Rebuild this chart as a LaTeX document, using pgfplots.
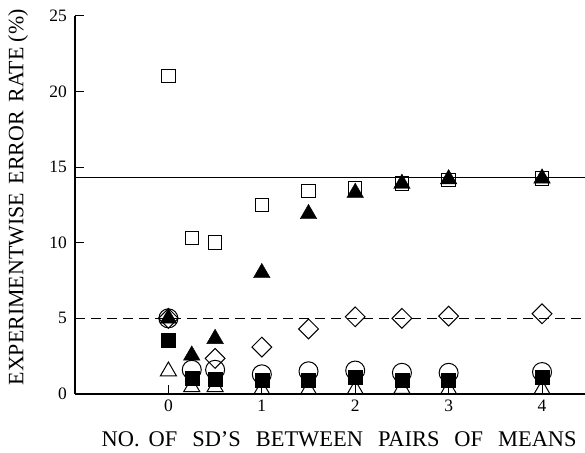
\documentclass[border=0pt]{standalone}
\usepackage{fontspec}
\setmainfont{Liberation Serif}
\usepackage{pgfplots}
\pgfplotsset{compat=1.18}

\begin{document}
\begin{tikzpicture}
\begin{axis}[name=ax,
 scale only axis, width=510bp, height=378.3bp,
 xmin=-1, xmax=4.46, ymin=0, ymax=25,
 axis x line*=bottom, axis y line*=left,
 axis line style={-, line width=1.1bp},
 xtick={0,1,2,3,4}, ytick={0,5,10,15,20,25},
 tick align=inside, major tick length=9bp,
 tick style={line width=1bp, black},
 /pgf/number format/assume math mode=true,
 ticklabel style={font=\fontsize{17.5}{18}\selectfont},
 xticklabel style={anchor=north, inner sep=0pt, yshift=-6bp},
 yticklabel style={anchor=east, inner sep=0pt, xshift=-8bp},
 xlabel={NO.\hspace{0.4em}OF\hspace{0.67em}SD'S\hspace{0.67em}BETWEEN\hspace{0.67em}PAIRS\hspace{0.67em}OF\hspace{0.67em}MEANS},
 xlabel style={font=\fontsize{22.5}{23}\selectfont, at={(axis description cs:0.518,0)}, anchor=center, yshift=-45bp},
 ylabel={EXPERIMENTWISE\hspace{0.4em}ERROR\hspace{0.4em}RATE\hspace{0.25em}(\%)},
 ylabel style={font=\fontsize{22}{23}\selectfont, at={(axis description cs:0,0.52)}, anchor=center, yshift=57bp},
 clip=false,
]
% reference lines
\addplot[black, line width=1bp, forget plot] coordinates {(-1,14.3) (4.46,14.3)};
\addplot[black, line width=1bp, dash pattern=on 10bp off 6bp, forget plot] coordinates {(-1,5) (4.46,5)};
% open circles
\addplot[only marks, mark=o, mark size=9.5bp, mark options={line width=1bp, black}] coordinates {
(0,5.0) (0.25,1.6) (0.5,1.6) (1,1.3) (1.5,1.5) (2,1.55) (2.5,1.4) (3,1.4) (4,1.45)};
% open diamonds
\addplot[only marks, mark=square, mark size=7bp, mark options={rotate=45, line width=1bp, black}] coordinates {
(0,5.0) (0.5,2.35) (1,3.1) (1.5,4.3) (2,5.1) (2.5,5.0) (3,5.15) (4,5.3)};
% open squares
\addplot[only marks, mark=square, mark size=6.7bp, mark options={line width=1bp, black}] coordinates {
(0,21) (0.25,10.3) (0.5,10.0) (1,12.5) (1.5,13.4) (2,13.6) (2.5,13.9) (3,14.15) (4,14.25)};
% open triangles
\addplot[only marks, mark=triangle, mark size=9.3bp, mark options={line width=1bp, black}] coordinates {
(0,1.5) (0.25,0.46) (0.5,0.46) (1,0.28) (1.5,0.28) (2,0.3) (2.5,0.35) (3,0.3) (4,0.3)};
% filled squares
\addplot[only marks, mark=square*, mark size=7bp, mark options={black, fill=black}] coordinates {
(0,3.57) (0.25,1.07) (0.5,1.0) (1,0.92) (1.5,0.92) (2,1.12) (2.5,0.92) (3,0.92) (4,1.1)};
% filled triangles
\addplot[only marks, mark=triangle*, mark size=9.6bp, mark options={black, fill=black}] coordinates {
(0,5.0) (0.25,2.55) (0.5,3.65) (1,8.0) (1.5,11.9) (2,13.3) (2.5,13.9) (3,14.2) (4,14.25)};
\end{axis}
\pgfresetboundingbox
\path[use as bounding box] ([shift={(-75bp,-59bp)}]ax.south west) rectangle ([shift={(0bp,15.7bp)}]ax.north east);
\end{tikzpicture}
\end{document}
